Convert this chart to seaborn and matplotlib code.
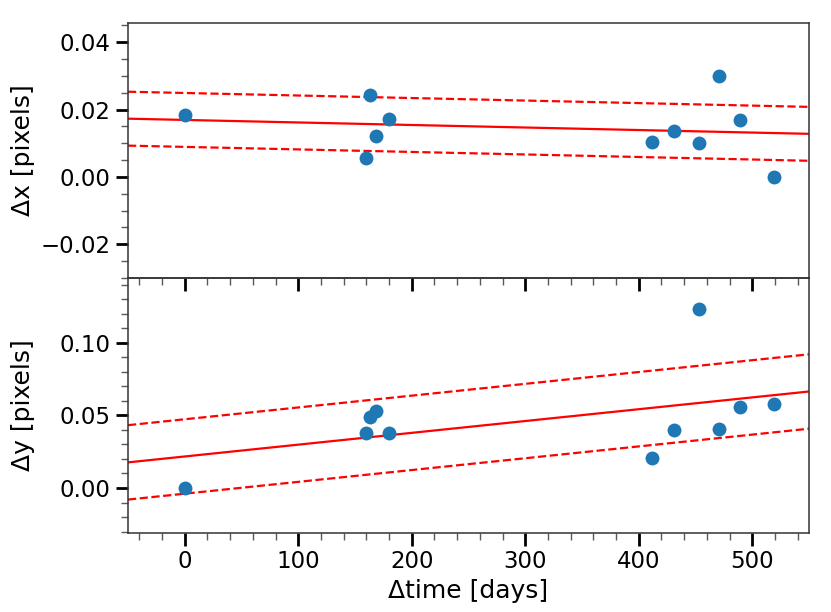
import numpy as np
import pandas as pd
import matplotlib
matplotlib.use("Agg")
import matplotlib.pyplot as plt
from matplotlib.ticker import MultipleLocator
import seaborn as sns

# ---- data ----
days = [0.0, 159.4, 163.5, 168.5, 179.7, 411.8, 431.5, 453.5, 470.6, 489.4, 519.4]
dx = [0.0185, 0.0055, 0.0243, 0.0121, 0.0173, 0.0104, 0.0136, 0.0100, 0.0300, 0.0170, 0.0000]
dy = [0.0000, 0.0381, 0.0490, 0.0527, 0.0381, 0.0205, 0.0397, 0.1235, 0.0404, 0.0560, 0.0580]

# linear fits: intercept, slope (per day), scatter band half-width
fit_x_intercept, fit_x_slope, fit_x_sigma = 0.01693, -7.5e-6, 0.0080
fit_y_intercept, fit_y_slope, fit_y_sigma = 0.0217, 8.13e-5, 0.0256

xlim = (-50, 550)

sns.set_theme(context="talk", style="ticks",
              rc={"axes.edgecolor": "0.2", "axes.linewidth": 1.1,
                  "text.color": "black", "axes.labelcolor": "black",
                  "xtick.labelcolor": "black", "ytick.labelcolor": "black",
                  "xtick.color": "black", "ytick.color": "black"})
plt.rcParams['font.family'] = ['DejaVu Sans']

df = pd.DataFrame({"days": days, "dx": dx, "dy": dy})

fig, (ax1, ax2) = plt.subplots(2, 1, figsize=(8.31, 6.12), dpi=100, sharex=True)
fig.subplots_adjust(left=0.154, right=0.9735, top=0.9624, bottom=0.129, hspace=0)

tline = np.array(xlim, dtype=float)

for ax, col, b, m, s in [(ax1, "dx", fit_x_intercept, fit_x_slope, fit_x_sigma),
                         (ax2, "dy", fit_y_intercept, fit_y_slope, fit_y_sigma)]:
    sns.scatterplot(data=df, x="days", y=col, ax=ax, color="#1f77b4", s=100,
                    linewidth=0, zorder=3)
    yfit = b + m * tline
    sns.lineplot(x=tline, y=yfit, ax=ax, color="red", lw=1.6, zorder=2)
    sns.lineplot(x=tline, y=yfit + s, ax=ax, color="red", lw=1.6, ls="--", zorder=2)
    sns.lineplot(x=tline, y=yfit - s, ax=ax, color="red", lw=1.6, ls="--", zorder=2)
    ax.xaxis.set_major_locator(MultipleLocator(100))
    ax.xaxis.set_minor_locator(MultipleLocator(20))
    ax.tick_params(which="both", direction="out", right=False, top=False)
    ax.tick_params(which="major", length=9, width=2.0)
    ax.tick_params(which="minor", length=5, width=1.0, color="0.35")

ax1.set_xlim(*xlim)
ax1.set_ylim(-0.030, 0.0457)
ax2.set_ylim(-0.031, 0.1445)
ax1.yaxis.set_major_locator(MultipleLocator(0.02))
ax1.yaxis.set_minor_locator(MultipleLocator(0.005))
ax2.yaxis.set_major_locator(MultipleLocator(0.05))
ax2.yaxis.set_minor_locator(MultipleLocator(0.01))
ax1.tick_params(axis="x", labelbottom=False)

# keep the upper panel's bottom ticks visible over the lower panel
ax1.set_zorder(2)
ax1.patch.set_visible(False)

ax1.set_ylabel("Δx [pixels]")
ax2.set_ylabel("Δy [pixels]")
ax1.set_xlabel("")
ax2.set_xlabel("Δtime [days]")
fig.align_ylabels([ax1, ax2])

fig.savefig("out.png", dpi=100)
